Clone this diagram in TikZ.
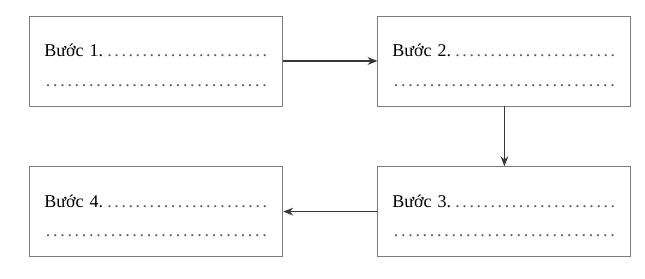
\documentclass[tikz,border=0pt]{standalone}
\usepackage{fontspec}
\setmainfont{Liberation Serif}
\usetikzlibrary{arrows.meta,positioning}
\definecolor{boxgray}{RGB}{125,125,125}
\definecolor{arrgray}{RGB}{55,55,55}
\definecolor{dotgray}{RGB}{90,90,90}
\newcommand{\dotrow}{{\color{dotgray}\xleaders\hbox to 5pt{\hss.\hss}\hfill\kern0pt}}

\begin{document}
\begin{tikzpicture}[
  stepbox/.style={rectangle, draw=boxgray, line width=0.6pt,
                  minimum width=6.325cm, minimum height=2.25cm,
                  text width=5.6cm, align=left,
                  font=\fontsize{12.8}{21}\selectfont},
  flow/.style={-{Stealth[length=7pt,width=5.5pt]}, line width=1.1pt, arrgray},
]
\useasboundingbox (0,0) rectangle (16.125,-6.95);

% Steps
\node[stepbox] (s1) at (3.91,-1.525)  {\rule{0pt}{0.75cm}Bước 1.\,\dotrow\\ \strut\dotrow};
\node[stepbox] (s2) at (12.61,-1.525) {\rule{0pt}{0.75cm}Bước 2.\,\dotrow\\ \strut\dotrow};
\node[stepbox] (s3) at (12.61,-5.29)  {\rule{0pt}{0.75cm}Bước 3.\,\dotrow\\ \strut\dotrow};
\node[stepbox] (s4) at (3.91,-5.29)   {\rule{0pt}{0.75cm}Bước 4.\,\dotrow\\ \strut\dotrow};

% Flow between steps
\draw[flow] (s1) -- (s2);
\draw[flow] (s2) -- (s3);
\draw[flow] (s3) -- (s4);

\end{tikzpicture}
\end{document}
